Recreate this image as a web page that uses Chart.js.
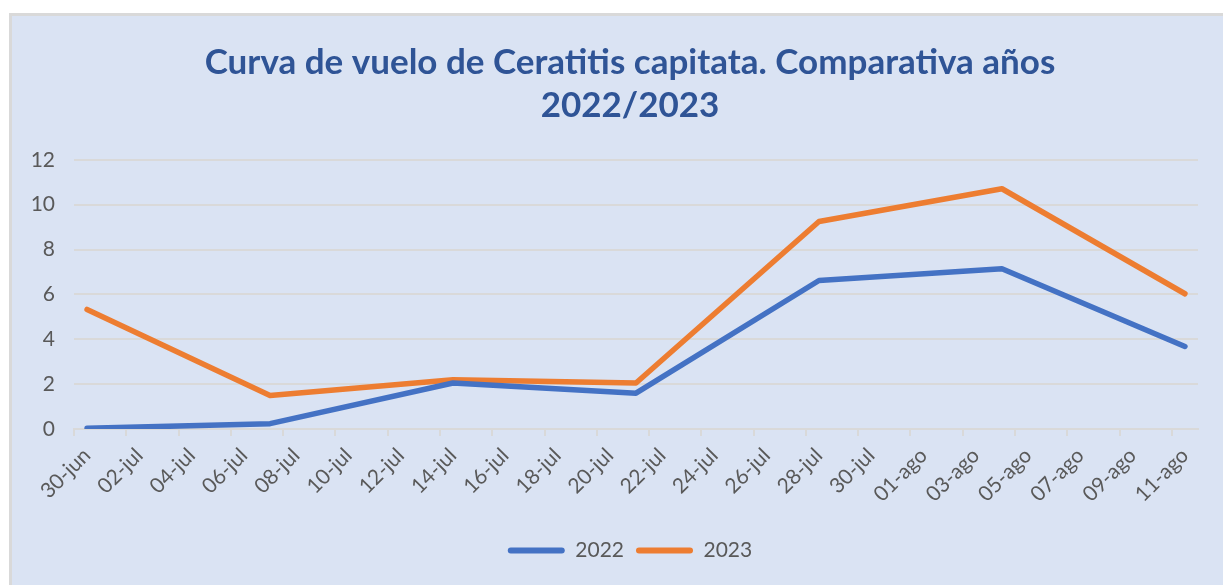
<!DOCTYPE html>
<html>
<head>
<meta charset="utf-8">
<script src="https://cdn.jsdelivr.net/npm/chart.js@4.4.0/dist/chart.umd.min.js"></script>
<style>
    html, body { margin: 0; padding: 0; background: #ffffff; overflow: hidden; }
    #frame {
        position: absolute; left: 9px; top: 13px;
        width: 1214px; height: 572px;
        border-left: 3px solid #D9D9D9; border-top: 3px solid #D9D9D9;
        background: #DAE3F3;
        overflow: hidden;
    }
    #wrap { position: absolute; left: 0; top: 0; width: 1236px; height: 569px; }
</style>
</head>
<body>
<div id="frame"><div id="wrap"><canvas id="flightChart"></canvas></div></div>
<script>
// sampling dates (weekly trap counts)
const sampleDates = ['30-jun', '07-jul', '14-jul', '21-jul', '28-jul', '04-ago', '11-ago'];
const values2022 = [0.03, 0.24, 2.05, 1.6, 6.62, 7.14, 3.68];
const values2023 = [5.33, 1.49, 2.2, 2.05, 9.25, 10.71, 6.03];

// axis labels shown every 2 days
const tickLabels = ['30-jun', '02-jul', '04-jul', '06-jul', '08-jul', '10-jul', '12-jul', '14-jul',
    '16-jul', '18-jul', '20-jul', '22-jul', '24-jul', '26-jul', '28-jul', '30-jul',
    '01-ago', '03-ago', '05-ago', '07-ago', '09-ago', '11-ago'];
const yTicks = [0, 2, 4, 6, 8, 10, 12];

// full day axis from 30-jun to 11-ago
const monthNames = ['ene', 'feb', 'mar', 'abr', 'may', 'jun', 'jul', 'ago', 'sep', 'oct', 'nov', 'dic'];
const allDays = [];
for (let d = new Date(2023, 5, 30); d <= new Date(2023, 7, 11); d.setDate(d.getDate() + 1)) {
    allDays.push(String(d.getDate()).padStart(2, '0') + '-' + monthNames[d.getMonth()]);
}

const textColor = '#595959';
const gridColor = '#D9D9D9';
const fontFamily = 'Lato, "Liberation Sans", sans-serif';

const ctx = document.getElementById('flightChart').getContext('2d');
new Chart(ctx, {
    type: 'line',
    data: {
        labels: allDays,
        datasets: [{
            label: '2022',
            data: sampleDates.map((d, i) => ({ x: d, y: values2022[i] })),
            borderColor: '#4472C4',
            backgroundColor: '#4472C4',
            borderWidth: 5.5,
            pointRadius: 0,
            borderCapStyle: 'round',
            borderJoinStyle: 'round',
            tension: 0
        }, {
            label: '2023',
            data: sampleDates.map((d, i) => ({ x: d, y: values2023[i] })),
            borderColor: '#ED7D31',
            backgroundColor: '#ED7D31',
            borderWidth: 5.5,
            pointRadius: 0,
            borderCapStyle: 'round',
            borderJoinStyle: 'round',
            tension: 0
        }]
    },
    options: {
        responsive: true,
        maintainAspectRatio: false,
        animation: false,
        layout: { padding: { left: 0, right: 0, top: 0, bottom: 14 } },
        plugins: {
            title: {
                display: true,
                text: ['Curva de vuelo de Ceratitis capitata. Comparativa años', '2022/2023'],
                color: '#2F5496',
                font: { family: fontFamily, size: 35, weight: 'bold', lineHeight: 1.24 },
                padding: { top: 25, bottom: 32 }
            },
            legend: {
                position: 'bottom',
                labels: {
                    color: textColor,
                    font: { family: fontFamily, size: 21 },
                    boxWidth: 57,
                    boxHeight: 6,
                    padding: 12,
                    useBorderRadius: true,
                    borderRadius: 3,
                    generateLabels: chart => Chart.defaults.plugins.legend.labels.generateLabels(chart)
                        .map(item => Object.assign(item, { lineWidth: 0 }))
                }
            },
            tooltip: { enabled: false }
        },
        scales: {
            x: {
                offset: true,
                afterFit: axis => { axis.height += 14; axis.paddingRight = 50; },
                grid: {
                    offset: true,
                    drawOnChartArea: false,
                    drawTicks: true,
                    tickLength: 7,
                    lineWidth: 2,
                    color: c => (c.index % 2 === 0 ? gridColor : 'rgba(0,0,0,0)')
                },
                border: { color: gridColor, width: 2 },
                ticks: {
                    autoSkip: false,
                    maxRotation: 45,
                    minRotation: 45,
                    padding: 7,
                    color: textColor,
                    font: { family: fontFamily, size: 21 },
                    callback: (val, i) => (i % 2 === 0 ? tickLabels[i / 2] : '')
                }
            },
            y: {
                min: 0,
                max: 12,
                afterBuildTicks: axis => { axis.ticks = yTicks.map(v => ({ value: v })); },
                afterFit: axis => { axis.width = 62; },
                grid: { color: gridColor, lineWidth: 2, drawTicks: false },
                border: { display: false },
                ticks: {
                    padding: 19,
                    color: textColor,
                    font: { family: fontFamily, size: 21 }
                }
            }
        }
    }
});
</script>
</body>
</html>
